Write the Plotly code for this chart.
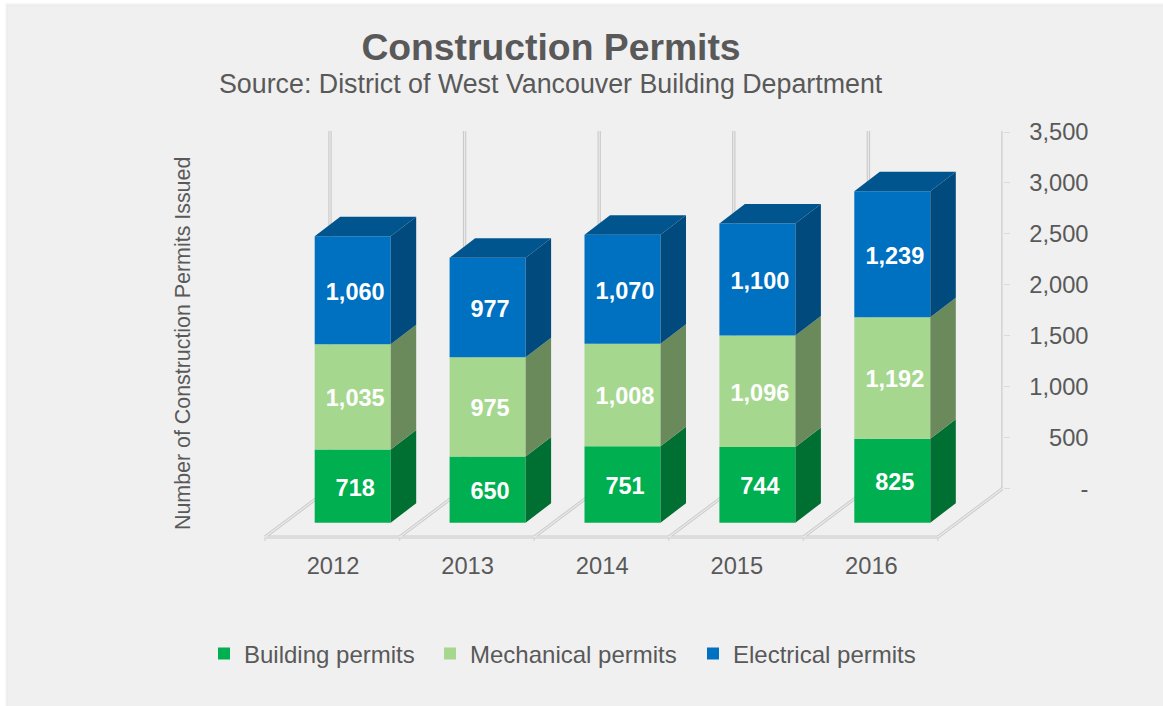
import plotly.graph_objects as go

# ---- data ----
years = ["2012", "2013", "2014", "2015", "2016"]
building = [718, 650, 751, 744, 825]
mechanical = [1035, 975, 1008, 1096, 1192]
electrical = [1060, 977, 1070, 1100, 1239]
axis_ticks = [0, 500, 1000, 1500, 2000, 2500, 3000, 3500]
axis_labels = ["-", "500", "1,000", "1,500", "2,000", "2,500", "3,000", "3,500"]

series_names = ["Building permits", "Mechanical permits", "Electrical permits"]
front_colors = ["#00B050", "#A6D78F", "#0070C0"]
side_colors = ["#006F32", "#6B8A5C", "#004A7E"]
legend_ids = ["legend", "legend2", "legend3"]
legend_text_px = [244, 470, 733]
top_color = "#00558F"
text_color = "#595959"
font = "Liberation Sans, Arial, sans-serif"

W, H = 1163, 706
PX_PER_UNIT = 0.1018       # vertical scale
PX_PER_CAT = 134.6         # horizontal scale
BAR_PITCH = 134.9
BACK_ZERO, FRONT_ZERO = 488.3, 522.7
PLOT_L, PLOT_R, PLOT_T, PLOT_B = 260, 1003, 125, 541
CAT0_PX = 333

def u(px):
    return (px - CAT0_PX) / PX_PER_CAT

def back_val(px):
    return (BACK_ZERO - px) / PX_PER_UNIT

def front_val(px):
    return (FRONT_ZERO - px) / PX_PER_UNIT

bar_w = 76 / PX_PER_CAT
dx = 25.5 / PX_PER_CAT
dy = 19.5 / PX_PER_UNIT
label_nudge_x = 2.5 / PX_PER_CAT
label_nudge_y = 3.5 / PX_PER_UNIT
xs = [u(352.7) + i * BAR_PITCH / PX_PER_CAT for i in range(len(years))]

fig = go.Figure()

# ---- back walls (bottom layer) ----
wall_x, wall_y = [], []
for k in range(len(years) + 1):
    x_w = u(330) + k
    wall_x += [x_w, x_w, None]
    wall_y += [back_val(488.3), back_val(131), None]
for width, col in [(3.4, "#CBCBCB"), (1.2, "#E9E9E9")]:
    fig.add_trace(go.Scatter(x=wall_x, y=wall_y, mode="lines", yaxis="y", cliponaxis=False,
                             line=dict(color=col, width=width), showlegend=False, hoverinfo="skip"))

# ---- floor ----
floor_x, floor_y = [], []
y_front = back_val(537)
for k in range(len(years) + 1):
    x_f = u(265) + k
    floor_x += [x_f, u(330) + k, None]
    floor_y += [y_front, back_val(488.3), None]
floor_x += [u(265), u(265) + len(years), None]
floor_y += [y_front, y_front, None]
tick_x, tick_y = [], []
for k in range(len(years) + 1):
    tick_x += [u(265) + k, u(265) + k, None]
    tick_y += [y_front, back_val(541), None]
fig.add_trace(go.Scatter(x=tick_x, y=tick_y, mode="lines", yaxis="y2", cliponaxis=False,
                         line=dict(color="#DADADA", width=1.5), showlegend=False, hoverinfo="skip"))
for width, col in [(3.2, "#CBCBCB"), (1.1, "#EDEDED")]:
    fig.add_trace(go.Scatter(x=floor_x, y=floor_y, mode="lines", yaxis="y2", cliponaxis=False,
                             line=dict(color=col, width=width), showlegend=False, hoverinfo="skip"))

# ---- stacked columns ----
bottoms = [0] * len(years)
label_x, label_y, label_text = [], [], []
for name, values, fc, sc, lg in zip(series_names, [building, mechanical, electrical],
                                    front_colors, side_colors, legend_ids):
    fig.add_trace(go.Bar(
        x=xs, y=values, base=bottoms, width=bar_w, name=name, yaxis="y3", legend=lg,
        marker=dict(color=fc, line=dict(width=0)),
        hovertemplate="%{y:,}<extra>" + name + "</extra>",
    ))
    px_, py_ = [], []
    for x, b, v in zip(xs, bottoms, values):
        r = x + bar_w / 2
        t = b + v
        px_ += [r, r + dx, r + dx, r, r, None]
        py_ += [b, b + dy, t + dy, t, b, None]
        label_x.append(x + label_nudge_x)
        label_y.append(b + v / 2 - label_nudge_y)
        label_text.append(f"{v:,}")
    fig.add_trace(go.Scatter(x=px_, y=py_, mode="lines", fill="toself", fillcolor=sc, yaxis="y3",
                             line=dict(width=0, color=sc),
                             showlegend=False, hoverinfo="skip", cliponaxis=False))
    bottoms = [b + v for b, v in zip(bottoms, values)]

tx, ty = [], []
for x, t in zip(xs, bottoms):
    l, r = x - bar_w / 2, x + bar_w / 2
    tx += [l, r, r + dx, l + dx, l, None]
    ty += [t, t, t + dy, t + dy, t, None]
fig.add_trace(go.Scatter(x=tx, y=ty, mode="lines", fill="toself", fillcolor=top_color, yaxis="y3",
                         line=dict(width=0, color=top_color), showlegend=False, hoverinfo="skip", cliponaxis=False))

# ---- value labels ----
fig.add_trace(go.Scatter(x=label_x, y=label_y, text=label_text, mode="text", yaxis="y3",
                         textposition="middle center", showlegend=False, hoverinfo="skip",
                         textfont=dict(family=font, size=23.5, color="white", weight="bold")))

# ---- card background with a soft edge ----
shapes = []
for off, col in [(3, "#F8F8F8"), (2, "#F2F2F2"), (1, "#ECECEC"), (0, "#F0F0F0")]:
    shapes.append(dict(type="rect", xref="paper", yref="paper", layer="below", line=dict(width=0),
                       fillcolor=col, x0=(8 - off) / W, x1=1, y0=0, y1=1 - (6 - off) / H))

y_range_back = [back_val(PLOT_B), back_val(PLOT_T)]
y_range_front = [front_val(PLOT_B), front_val(PLOT_T)]
y_dom = [1 - PLOT_B / H, 1 - PLOT_T / H]

def legend_at(text_px):
    return dict(orientation="h", x=(text_px - 40) / W, xanchor="left", y=1 - 654 / H, yanchor="middle",
                bgcolor="rgba(0,0,0,0)", font=dict(family=font, size=24, color=text_color))

fig.update_layout(
    width=W, height=H, margin=dict(l=0, r=0, t=0, b=0, autoexpand=False),
    paper_bgcolor="white", plot_bgcolor="rgba(0,0,0,0)",
    barmode="overlay", shapes=shapes,
    font=dict(family=font, color=text_color, size=23.7),
    title=dict(text="<b>Construction Permits</b>", x=551 / W, xanchor="center",
               y=1 - 47 / H, yanchor="middle", font=dict(family=font, size=37.3, color=text_color)),
    xaxis=dict(domain=[PLOT_L / W, PLOT_R / W], range=[u(PLOT_L), u(PLOT_R)], showgrid=False, zeroline=False,
               showline=False, tickmode="array", tickvals=list(range(len(years))), ticktext=years,
               ticks="outside", ticklen=4, tickcolor="rgba(0,0,0,0)",
               tickfont=dict(family=font, size=23.7, color=text_color)),
    yaxis=dict(domain=y_dom, range=y_range_back, side="right", anchor="x", showgrid=False, zeroline=False,
               showline=False, tickmode="array", tickvals=axis_ticks, ticks="outside", ticklen=6,
               tickcolor="#DADADA", showticklabels=False),
    yaxis2=dict(domain=y_dom, range=y_range_back, overlaying="y", side="left", anchor="free", position=1088.5 / W,
                showgrid=False, zeroline=False, showline=False, tickmode="array", tickvals=axis_ticks,
                ticktext=axis_labels, ticks="", tickfont=dict(family=font, size=23.7, color=text_color)),
    yaxis3=dict(domain=y_dom, range=y_range_front, overlaying="y", side="left", anchor="x", showgrid=False,
                zeroline=False, showline=False, visible=False),
    legend=legend_at(legend_text_px[0]),
    legend2=legend_at(legend_text_px[1]),
    legend3=legend_at(legend_text_px[2]),
    annotations=[
        dict(text="Source: District of West Vancouver Building Department", xref="paper", yref="paper",
             x=551 / W, y=1 - 84 / H, showarrow=False, xanchor="center", yanchor="middle",
             font=dict(family=font, size=26.8, color=text_color)),
        dict(text="Number of Construction Permits Issued", xref="paper", yref="paper",
             x=183 / W, y=1 - 344 / H, showarrow=False, textangle=-90, xanchor="center", yanchor="middle",
             font=dict(family=font, size=21.4, color=text_color)),
    ],
)

fig.write_html("out.html", config={"displayModeBar": False},
               post_script="document.body.style.margin='0';document.body.style.background='#f0f0f0';document.documentElement.style.overflow='hidden';")
